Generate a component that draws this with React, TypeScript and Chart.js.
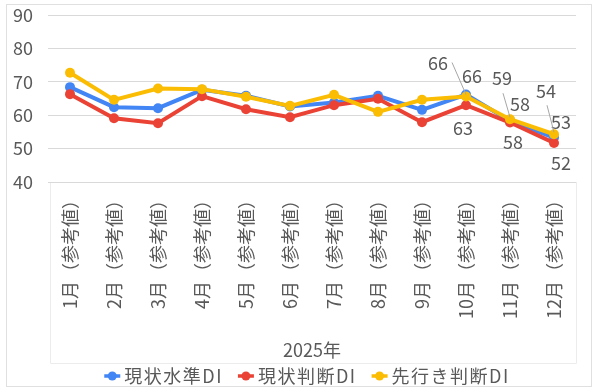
import React, { useEffect, useRef } from "react";
import { Chart, registerables } from "chart.js";

Chart.register(...registerables);

const categories = [
  "1月（参考値）",
  "2月（参考値）",
  "3月（参考値）",
  "4月（参考値）",
  "5月（参考値）",
  "6月（参考値）",
  "7月（参考値）",
  "8月（参考値）",
  "9月（参考値）",
  "10月（参考値）",
  "11月（参考値）",
  "12月（参考値）",
];
const seriesNames = ["現状水準DI", "現状判断DI", "先行き判断DI"];
const genjoSuijun = [68.4, 62.4, 62.1, 67.6, 65.8, 62.6, 63.8, 65.8, 61.6, 66.2, 58.3, 53.3];
const genjoHandan = [66.3, 59.1, 57.6, 65.7, 61.8, 59.4, 63.0, 64.9, 57.9, 63.0, 57.8, 51.7];
const sakiyukiHandan = [72.7, 64.6, 68.0, 67.8, 65.5, 62.8, 66.1, 61.0, 64.6, 65.6, 58.8, 54.3];
const yMin = 40;
const yMax = 90;
const yStep = 10;
const xTitle = "2025年";
const labeledIndices = [9, 10, 11];

const colors = ["#4285F4", "#EA4335", "#FBBC04"];
const FONT = '"Noto Sans CJK JP", "Noto Sans", sans-serif';
const TEXT = "#595959";

// label offsets (px) relative to point, per series, per labeled index
const labelOffsets = [
  [[6, -18], [10, -17], [7, -15]],
  [[-3, 23], [3, 20], [7, 20]],
  [[-28, -33], [-8, -41], [-8, -43]],
];
// leader line start offsets relative to label centre (only for series 2)
const leaderStarts = [[14, -1], [1, 15], [1, 14]];

const framePlugin = {
  id: "frame",
  beforeDraw(chart: any) {
    const ctx = chart.ctx;
    const { left, right, bottom } = chart.chartArea;
    ctx.save();
    ctx.strokeStyle = "#e0e0e0";
    ctx.lineWidth = 1;
    ctx.strokeRect(6.5, 4.5, 585, 382);
    ctx.strokeStyle = "#ececec";
    ctx.beginPath();
    ctx.moveTo(left + 2.5, bottom);
    ctx.lineTo(left + 2.5, 363.5);
    ctx.lineTo(right + 0.5, 363.5);
    ctx.lineTo(right + 0.5, bottom);
    ctx.stroke();
    ctx.restore();
  },
};

const legendPlugin = {
  id: "customLegend",
  afterDraw(chart: any) {
    const ctx = chart.ctx;
    const { left, right } = chart.chartArea;
    ctx.save();
    ctx.font = `18px ${FONT}`;
    (ctx as any).letterSpacing = "1.5px";
    const markerW = 16;
    const gapText = 4;
    const gapItem = 15;
    const widths = seriesNames.map((n) => ctx.measureText(n).width);
    const total =
      widths.reduce((a, b) => a + b, 0) + seriesNames.length * (markerW + gapText) + gapItem * (seriesNames.length - 1);
    let x = (left + right) / 2 - 5 - total / 2;
    const y = 376;
    seriesNames.forEach((n, i) => {
      ctx.strokeStyle = colors[i];
      ctx.fillStyle = colors[i];
      ctx.lineWidth = 3.5;
      ctx.beginPath();
      ctx.moveTo(x, y);
      ctx.lineTo(x + markerW, y);
      ctx.stroke();
      ctx.beginPath();
      ctx.arc(x + markerW / 2, y, 4.5, 0, Math.PI * 2);
      ctx.fill();
      ctx.fillStyle = TEXT;
      ctx.textAlign = "left";
      ctx.textBaseline = "middle";
      ctx.fillText(n, x + markerW + gapText, y);
      x += markerW + gapText + widths[i] + gapItem;
    });
    ctx.restore();
  },
};

const labelPlugin = {
  id: "dataLabels",
  afterDatasetsDraw(chart: any) {
    const ctx = chart.ctx;
    ctx.save();
    ctx.font = `18px ${FONT}`;
    ctx.fillStyle = TEXT;
    ctx.textAlign = "center";
    ctx.textBaseline = "middle";
    chart.data.datasets.forEach((ds: any, di: number) => {
      const meta = chart.getDatasetMeta(di);
      labeledIndices.forEach((idx, k) => {
        const pt = meta.data[idx];
        const [dx, dy] = labelOffsets[di][k];
        const lx = pt.x + dx;
        const ly = pt.y + dy;
        if (di === 2) {
          const [sx, sy] = leaderStarts[k];
          ctx.strokeStyle = "#a6a6a6";
          ctx.lineWidth = 1;
          ctx.beginPath();
          ctx.moveTo(lx + sx, ly + sy);
          ctx.lineTo(pt.x, pt.y - 2);
          ctx.stroke();
        }
        ctx.fillText(String(Math.round(ds.data[idx])), lx, ly);
      });
    });
    ctx.restore();
  },
};

export default function App() {
  const ref = useRef<HTMLCanvasElement | null>(null);

  useEffect(() => {
    document.body.style.margin = "0";
    if (!ref.current) return;
    const series = [genjoSuijun, genjoHandan, sakiyukiHandan];
    const chart = new Chart(ref.current, {
      type: "line",
      data: {
        labels: categories,
        datasets: series.map((d, i) => ({
          label: seriesNames[i],
          data: d,
          borderColor: colors[i],
          backgroundColor: colors[i],
          borderWidth: 4,
          pointRadius: 5,
          pointHoverRadius: 5,
          pointBorderWidth: 0,
          tension: 0,
          order: 3 - i,
        })),
      },
      options: {
        responsive: false,
        animation: false,
        layout: { padding: { left: 8, right: 20, top: 15, bottom: 28 } },
        plugins: {
          tooltip: { enabled: false },
          legend: { display: false },
        },
        scales: {
          x: {
            offset: true,
            grid: { display: false, drawTicks: false },
            border: { display: false },
            ticks: {
              minRotation: 90,
              maxRotation: 90,
              autoSkip: false,
              padding: 9,
              color: TEXT,
              font: { family: FONT, size: 18 },
            },
            title: {
              display: true,
              text: xTitle,
              color: TEXT,
              font: { family: FONT, size: 18 },
              padding: { top: 0, bottom: 1 },
            },
            afterFit: (scale: any) => {
              scale.height = 180;
            },
          },
          y: {
            min: yMin,
            max: yMax,
            grid: { color: "#d9d9d9", lineWidth: 1, drawTicks: false },
            border: { display: false },
            ticks: {
              stepSize: yStep,
              padding: 15,
              color: TEXT,
              font: { family: FONT, size: 18 },
            },
            afterFit: (scale: any) => {
              scale.width = 40;
              scale.paddingTop = 0;
              scale.paddingBottom = 0;
            },
          },
        },
      },
      plugins: [framePlugin, labelPlugin, legendPlugin],
    });
    return () => chart.destroy();
  }, []);

  return (
    <div style={{ width: 596, height: 390, background: "#fff" }}>
      <canvas ref={ref} width={596} height={390} style={{ width: 596, height: 390, display: "block" }} />
    </div>
  );
}
